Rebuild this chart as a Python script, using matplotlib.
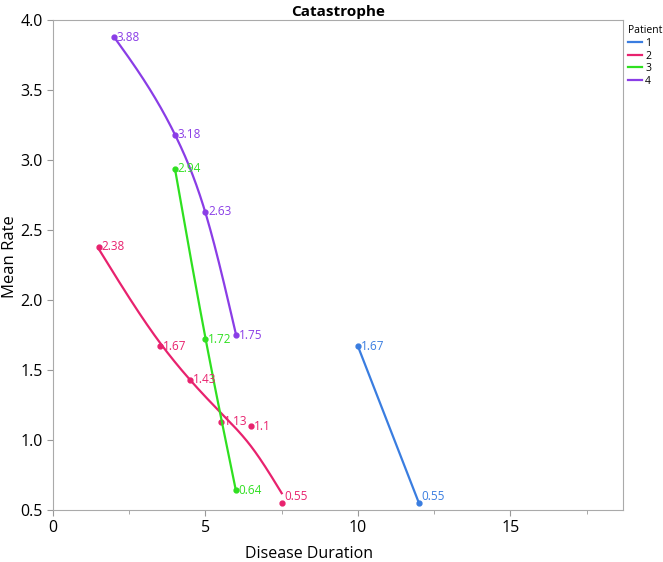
import numpy as np
import matplotlib
matplotlib.use("Agg")
import matplotlib.pyplot as plt

plt.rcParams['font.family'] = ['Open Sans', 'DejaVu Sans']

patients = ["1", "2", "3", "4"]
colors = ["#3a7de0", "#e8226e", "#2fe020", "#8a3de6"]
duration = {
    "1": [10, 12],
    "2": [1.5, 3.5, 4.5, 5.5, 6.5, 7.5],
    "3": [4, 5, 6],
    "4": [2, 4, 5, 6],
}
rate = {
    "1": [1.67, 0.55],
    "2": [2.38, 1.67, 1.43, 1.13, 1.1, 0.55],
    "3": [2.94, 1.72, 0.64],
    "4": [3.88, 3.18, 2.63, 1.75],
}
smooth_lambda = {"1": 0.02, "2": 0.5, "3": 0.02, "4": 0.01}


def smoother(x, y, lam, n=400):
    """Discrete penalised (smoothing-spline-like) fit on a fine grid."""
    xs = np.linspace(x.min(), x.max(), n)
    h = xs[1] - xs[0]
    B = np.zeros((len(x), n))
    for i, xi in enumerate(x):
        j = min(int((xi - xs[0]) / h), n - 2)
        t = (xi - xs[j]) / h
        B[i, j] = 1 - t
        B[i, j + 1] = t
    D = np.diff(np.eye(n), 2, axis=0)
    A = B.T @ B + lam * (D.T @ D) / h**3
    f = np.linalg.solve(A, B.T @ y)
    return xs, f


fig = plt.figure(figsize=(6.63, 5.62), dpi=100)
ax = fig.add_axes([0.080, 0.0925, 0.860, 0.8715])

for p, c in zip(patients, colors):
    x = np.array(duration[p], dtype=float)
    y = np.array(rate[p], dtype=float)
    xs, f = smoother(x, y, smooth_lambda[p])
    ax.plot(xs, f, color=c, lw=1.6, label=p)
    ax.plot(x, y, 'o', color=c, ms=3.5)
    for xi, yi in zip(x, y):
        dy = 5 if yi < 0.6 else 0
        ax.annotate(f"{yi:g}", (xi, yi), xytext=(2, dy), textcoords='offset points',
                    color=c, fontsize=8.5, va='center', ha='left')

ax.set_xlim(0, 18.7)
ax.set_ylim(0.5, 4.0)
ax.set_xticks([0, 5, 10, 15])
ax.set_xticks([2.5, 7.5, 12.5, 17.5], minor=True)
yt = np.arange(0.5, 4.01, 0.5)
ax.set_yticks(yt)
ax.set_yticklabels([f"{v:.1f}" for v in yt])
ax.tick_params(axis='both', labelsize=11.5, color='#999999', length=4)
ax.tick_params(axis='x', which='minor', color='#999999', length=3)
for s in ax.spines.values():
    s.set_color('#aaaaaa')
ax.set_xlabel("Disease Duration", fontsize=11.5)
ax.xaxis.set_label_coords(0.449, -0.074)
ax.set_ylabel("Mean Rate", fontsize=12)
ax.yaxis.set_label_coords(-0.062, 0.518)
ax.set_title("Catastrophe", fontsize=11, fontweight='bold', pad=3)

leg = ax.legend(title="Patient", loc='upper left', bbox_to_anchor=(1.0, 1.0),
                frameon=False, fontsize=7.5, title_fontsize=7.5, handlelength=1.3,
                handletextpad=0.3, labelspacing=0.15, borderaxespad=0.2,
                borderpad=0.3)
leg._legend_box.align = "left"

fig.savefig("out.png", dpi=100)
